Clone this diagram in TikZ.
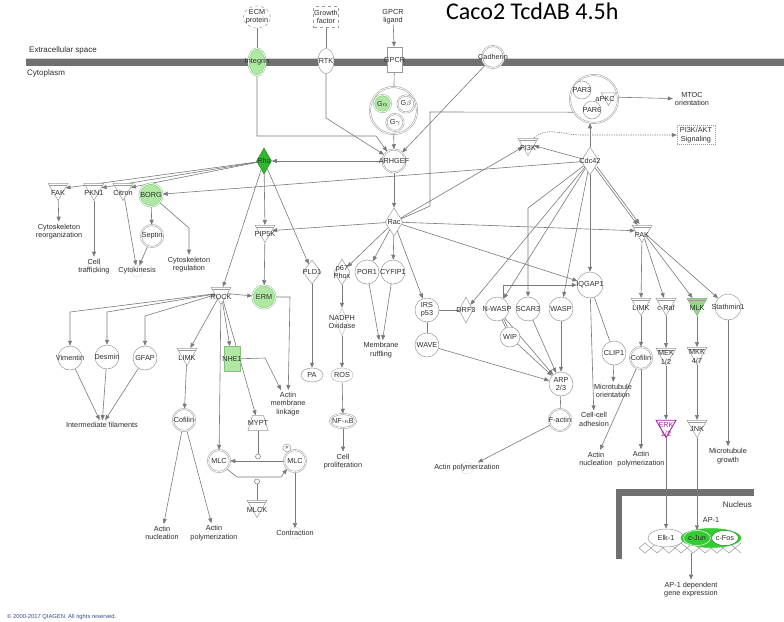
\documentclass[tikz,border=0pt]{standalone}
\usepackage{fontspec}
\setmainfont{Liberation Sans}
\newfontfamily\titlefont{Carlito}
\usetikzlibrary{shapes.geometric,arrows.meta,calc}

\definecolor{edge}{HTML}{7A7A7A}
\definecolor{rim}{HTML}{9A9A9A}
\definecolor{lgreen}{HTML}{AEE8A3}
\definecolor{ringgreen}{HTML}{7CC47A}
\definecolor{dgreen}{HTML}{2DB82D}
\definecolor{vgreen}{HTML}{33CC33}
\definecolor{mlkgreen}{HTML}{8EDC84}
\definecolor{erkpurple}{HTML}{A020A0}
\definecolor{membrane}{HTML}{707070}
\definecolor{txt}{HTML}{2E2E2E}
\definecolor{copyblue}{HTML}{3A4A8C}

\pgfdeclarelayer{bg}
\pgfdeclarelayer{edges}
\pgfsetlayers{bg,edges,main}

\tikzset{
  lbl/.style={font=\fontsize{7.3}{8.4}\selectfont, text=txt, align=center, inner sep=0pt},
  cmp/.style={font=\fontsize{8}{9}\selectfont, text=txt, inner sep=0pt},
  base/.style={draw=rim, fill=white, line width=0.5pt, inner sep=0pt},
  circ/.style={base, circle, minimum size=24pt},
  dcirc/.style={base, circle, minimum size=23pt, double=white, double distance=0.8pt},
  kinase/.style={base, regular polygon, regular polygon sides=3, shape border rotate=180, minimum size=23pt},
  enzyme/.style={base, diamond, minimum width=18pt, minimum height=28pt},
  receptor/.style={base, ellipse, minimum width=16pt, minimum height=25pt},
  oval/.style={base, ellipse, minimum width=22pt, minimum height=14pt},
  link/.style={draw=edge, line width=0.6pt},
  act/.style={link, -{Triangle[length=5pt,width=4pt]}},
  procmark/.style={draw=gray!45, dash pattern=on 1pt off 0.8pt, line width=0.4pt, circle, minimum size=12pt, inner sep=0pt},
  fnlbl/.style={lbl, inner sep=2pt},
  catdot/.style={circle, draw=edge, fill=white, line width=0.5pt, minimum size=5pt, inner sep=0pt},
}

% molecule: shape node plus its label
\newcommand\gene[4]{\node[#1] (#2) at (#3) {};\node[lbl] (#2-t) at (#2.center) {#4};}
% kinase triangle with its inner top rule, label set a little below the centre
\newcommand\kin[4]{\node[kinase,#1] (#2) at (#3) {};
  \draw[rim, line width=0.4pt] ($(#2.corner 2)!0.13!(#2.corner 1)$) -- ($(#2.corner 3)!0.13!(#2.corner 1)$);
  \node[lbl,yshift=-3.5pt] (#2-t) at (#2.center) {#4};}
% cellular function: small gear mark behind its text
\newcommand\fn[3]{\node[procmark] (#1-m) at (#2) {};\node[fnlbl] (#1) at (#2) {#3};}

\begin{document}
\begin{tikzpicture}[x=1pt,y=-1pt]
\useasboundingbox (0,0) rectangle (784,621);

% ---------------- compartments ----------------
\begin{pgfonlayer}{bg}
\fill[white] (0,0) rectangle (784,621);
\fill[membrane] (26,58.5) rectangle (784,65.5);
\draw[gray!35, line width=0.6pt] (26,58) -- (784,58);
\fill[membrane] (616,489) rectangle (754,496);
\fill[membrane] (616,489) rectangle (622,559);
% DNA strands
\draw[rim, line width=0.5pt] plot[domain=639:741, samples=18] (\x,{548+5*sin((\x-639)*15)});
\draw[rim, line width=0.5pt] plot[domain=639:741, samples=18] (\x,{548-5*sin((\x-639)*15)});
\end{pgfonlayer}

\node[cmp, anchor=west] (extra) at (29,50) {Extracellular space};
\node[cmp, anchor=west] (cyto) at (27,73) {Cytoplasm};
\node[cmp, anchor=east] (nucl) at (752,505) {Nucleus};

\node[anchor=base west, inner sep=0pt, font=\titlefont\fontsize{24}{24}\selectfont] (title) at (446,19) {Caco2 TcdAB 4.5h};
\node[anchor=west, inner sep=0pt, font=\fontsize{5.8}{6}\selectfont, text=copyblue] (copy) at (7,617) {\textcopyright\ 2000-2017 QIAGEN. All rights reserved.};

% ---------------- ligands and membrane ----------------
\gene{base, ellipse, dashed, minimum width=27pt, minimum height=22pt}{ecm}{257,17}{ECM\\protein}
\gene{base, rectangle, dashed, minimum width=25pt, minimum height=21pt}{gf}{326,17}{Growth\\factor}
\node[lbl] (gl) at (393,17) {GPCR\\ligand};

\gene{receptor, fill=lgreen, draw=ringgreen, double=white, double distance=0.8pt, minimum width=17pt, minimum height=27pt}{integrin}{257,62}{Integrin}
\gene{receptor}{rtk}{326,61}{RTK}
\gene{base, rectangle, minimum width=15pt, minimum height=25pt}{gpcr}{394.5,59.5}{GPCR}
\gene{dcirc, minimum size=22pt}{cadherin}{493,57}{Cadherin}

% G protein complex
\node[dcirc, minimum size=47pt] (gq) at (393.5,110.5) {};
\gene{circ, minimum size=17pt, fill=lgreen, draw=ringgreen, double=white, double distance=0.8pt}{ga}{382.5,103.5}{G$\alpha$}
\gene{circ, minimum size=17pt, double=white, double distance=0.8pt}{gb}{406,104}{G$\beta$}
\gene{circ, minimum size=17pt, double=white, double distance=0.8pt}{gg}{395,122.5}{G$\gamma$}

\gene{dcirc}{arhgef}{394,161}{ARHGEF}
\gene{enzyme, fill=dgreen, draw=dgreen!80!black, minimum width=15pt, minimum height=26pt}{rho}{264,161}{Rho}
\gene{enzyme}{rac}{394,222}{Rac}
\gene{enzyme}{cdc42}{590,161}{Cdc42}

\kin{}{pi3k}{528,144}{PI3K}
\gene{base, rectangle, dash pattern=on 1pt off 1pt, minimum width=38pt, minimum height=19pt}{pi3kakt}{696,135}{PI3K/AKT\\Signaling}

% PAR complex
\node[dcirc, minimum size=48pt] (par) at (594,99) {};
\gene{circ, minimum size=18pt}{par3}{582,90}{PAR3}
\gene{circ, minimum size=18pt}{par6}{592,110}{PAR6}
\node[kinase, minimum size=17pt] (apkc) at (608.5,97) {};
\node[lbl] (apkc-t) at (605,99) {aPKC};
\fn{mtoc}{692,99}{MTOC\\orientation}

% ---------------- Rho branch ----------------
\kin{}{fak}{58,189}{FAK}
\kin{}{pkn1}{94,189}{PKN1}
\kin{}{citron}{123,189}{Citron}
\gene{dcirc, fill=lgreen, draw=ringgreen}{borg}{151,195}{BORG}
\gene{dcirc, minimum size=22pt}{septin}{152,236}{Septin}

\fn{reorg}{59,231.5}{Cytoskeleton\\reorganization}
\fn{traf}{94,266.5}{Cell\\trafficking}
\fn{cytok}{137,271}{Cytokinesis}
\fn{cytreg}{189,264.5}{Cytoskeleton\\regulation}

\kin{}{rock}{221,293}{ROCK}
\kin{}{pip5k}{265,231}{PIP5K}
\gene{dcirc, fill=lgreen, draw=ringgreen}{erm}{264,297}{ERM}
\gene{enzyme, minimum width=18pt, minimum height=24pt}{pld1}{312,272}{PLD1}
\gene{enzyme, minimum width=16pt, minimum height=26pt}{p67}{342,272}{p67\\Phox}
\gene{circ}{por1}{367,272}{POR1}
\gene{circ}{cyfip1}{393,272}{CYFIP1}
\fn{ruff}{381,350}{Membrane\\ruffling}

\gene{oval}{pa}{312,375}{PA}
\gene{enzyme, draw=rim!60, minimum width=12pt, minimum height=28pt}{nadph}{342,322}{NADPH\\Oxidase}
\gene{oval, draw=rim!70}{ros}{342,375}{ROS}
\gene{oval, minimum width=26pt, double=white, double distance=0.8pt}{nfkb}{343,421}{NF-$\kappa$B}
\fn{prolif}{343,461.5}{Cell\\proliferation}

\gene{circ}{vim}{70,358}{Vimentin}
\gene{circ}{des}{107,357}{Desmin}
\gene{circ}{gfap}{145,358}{GFAP}
\fn{interm}{102,425}{Intermediate filaments}
\kin{}{limkA}{187,354}{LIMK}
\gene{dcirc, minimum size=22pt}{cofA}{184,420}{Cofilin}
\fn{actnucA}{162,533}{Actin\\nucleation}
\fn{actpolA}{214,533}{Actin\\polymerization}

\gene{base, rectangle, fill=lgreen, draw=lgreen!80!black, minimum width=16pt, minimum height=25pt}{nhe1}{232,359}{NHE1}
\fn{linkage}{288,404}{Actin\\membrane\\linkage}
\gene{base, trapezium, inner sep=2pt, trapezium stretches=true, trapezium left angle=68, trapezium right angle=68, minimum width=20pt, minimum height=15pt}{mypt}{258,423}{MYPT}
\gene{dcirc, minimum size=22pt}{mlcA}{219,461}{MLC}
\gene{dcirc, minimum size=22pt}{mlcB}{295,461}{MLC}
\node[circle, draw=rim, fill=white, line width=0.5pt, minimum size=8pt, inner sep=0pt, font=\fontsize{4.5}{5}\selectfont, text=txt] (mlcp) at (287,448) {P};
\kin{}{mlck}{257,506}{MLCK}
\node[catdot] (myptdot) at (258,456.5) {};
\node[catdot] (mlckdot) at (257,481.5) {};
\fn{contract}{295,533}{Contraction}

% ---------------- Rac / Cdc42 effectors ----------------
\gene{circ}{irs}{427,310}{IRS\\p53}
\gene{circ}{wave}{427,345}{WAVE}
\gene{enzyme, minimum width=14pt, minimum height=26pt}{drf3}{466,310}{DRF3}
\gene{circ}{nwasp}{497,309}{N-WASP}
\gene{circ}{scar3}{528,309}{SCAR3}
\gene{circ}{wasp}{561,309}{WASP}
\gene{circ, minimum size=20pt}{wip}{510,337}{WIP}
\gene{circ}{arp}{561,384}{ARP\\2/3}
\gene{dcirc, minimum size=22pt}{factin}{560,420}{F-actin}
\fn{actpolB}{467,468}{Actin polymerization}

\gene{circ, minimum size=26pt}{iqgap}{590,285}{IQGAP1}
\gene{circ}{clip1}{614,353}{CLIP1}
\fn{mtorient}{613,391}{Microtubule\\orientation}
\fn{adhes}{594,419.5}{Cell-cell\\adhesion}

\kin{}{pak}{642,231}{PAK}
\kin{}{limkB}{641,304}{LIMK}
\gene{dcirc, minimum size=22pt}{cofB}{641,358}{Cofilin}
\fn{actnucC}{596,459}{Actin\\nucleation}
\fn{actpolC}{641,459}{Actin\\polymerization}
\kin{}{craf}{666,304}{c-Raf}
\kin{}{mek}{666,354}{MEK\\1/2}
\node[kinase, draw=erkpurple, line width=0.9pt] (erk) at (666,426) {};
\node[lbl, text=erkpurple, yshift=-3.5pt] (erk-t) at (erk.center) {ERK\\1/2};
\kin{fill=mlkgreen, draw=mlkgreen!80!black}{mlk}{697,304}{MLK}
\kin{}{mkk}{697,353}{MKK\\4/7}
\kin{}{jnk}{697,426}{JNK}
\gene{circ, minimum size=26pt}{stath}{728,307}{Stathmin1}
\fn{mtgrowth}{728,456}{Microtubule\\growth}

% ---------------- nucleus ----------------
\gene{oval, minimum width=36pt, minimum height=18pt}{elk1}{666,538}{Elk-1}
\node[base, ellipse, fill=vgreen, draw=vgreen, minimum width=60pt, minimum height=19pt] (ap1) at (711,538) {};
\node[lbl] (ap1-t) at (711,520) {AP-1};
\gene{base, ellipse, fill=vgreen, draw=white, minimum width=27pt, minimum height=15pt}{cjun}{697,538}{c-Jun}
\gene{base, ellipse, fill=white, draw=vgreen!70!black, minimum width=27pt, minimum height=15pt}{cfos}{725,538}{c-Fos}
\coordinate (dnab) at (691,553);
\fn{geneexp}{691,589.5}{AP-1 dependent\\gene expression}

% ---------------- connectors ----------------
\begin{pgfonlayer}{edges}
\draw[link] (ecm) -- (integrin);
\draw[link] (gf) -- (rtk);
\draw[act] (gl) -- (gpcr);
\draw[link] (gpcr) -- (gq);
\draw[act] (gq) -- (arhgef);
\draw[act] (integrin) -- (257,136) -- (376,136) -- (arhgef);
\draw[act] (rtk) -- (326,118) -- (arhgef);
\draw[act] (cadherin) -- (arhgef);
\draw[act] (arhgef) -- (rho);
\draw[act] (arhgef) -- (rac);

\draw[act] (rho) -- (fak);
\draw[act] (rho) -- (pkn1);
\draw[act] (rho) -- (citron);
\draw[act] (rho) -- (rock);
\draw[act] (rho) -- (pip5k);
\draw[act] (rho) -- (pld1);
\draw[act] (cdc42) -- (borg);

\draw[act] (rac) -- (pip5k);
\draw[act] (rac) -- (p67);
\draw[act] (rac) -- (por1);
\draw[act] (rac) -- (cyfip1);
\draw[act] (rac) -- (irs);
\draw[act] (rac) -- (pi3k);
\draw[act] (rac) -- (iqgap);
\draw[act] (rac) -- (pak);
\draw[link] (rac) -- (430,206) -- (430,112) -- (par.213);

\draw[act] (cdc42) -- (pi3k);
\draw[act] (cdc42) -- (cdc42 |- par.south);
\draw[act] (cdc42) -- (drf3);
\draw[act] (cdc42) -- (nwasp);
\draw[act] (cdc42) -- (528,208) -- (scar3);
\draw[act] (cdc42) -- (wasp);
\draw[act] (cdc42) -- (iqgap);
\draw[act] (cdc42) -- (pak);
\draw[act, transform canvas={xshift=2pt, yshift=1pt}] (cdc42) -- (pak);
\draw[act, dash pattern=on 1.2pt off 1.2pt] (pi3k.north east) .. controls (546,126) and (562,135) .. (582,135) -- (pi3kakt);
\draw[act] (apkc) -- (mtoc);

\draw[act] (fak) -- (reorg);
\draw[act] (pkn1) -- (traf);
\draw[act] (citron) -- (cytok);
\draw[act] (borg) -- (septin);
\draw[act] (septin) -- (cytok);
\draw[act] (borg) -- (189,228) -- (cytreg);

\draw[act] (rock) -- (70,312) -- (vim);
\draw[act] (rock) -- (107,312) -- (des);
\draw[act] (rock) -- (145,316) -- (gfap);
\draw[act] (rock) -- (limkA);
\draw[act] (rock) -- (erm);
\draw[act] (rock) -- (nhe1);
\draw[act] (rock) -- (mypt);
\draw[act] (rock) -- (mlcA);
\draw[act] (vim) -- (interm);
\draw[act] (des) -- (interm);
\draw[act] (gfap) -- (interm);
\draw[act] (limkA) -- (cofA);
\draw[act] (cofA) -- (actnucA);
\draw[act] (cofA) -- (actpolA);
\draw[act] (pip5k) -- (erm);
\draw[act] (erm) -- (290,297) -- (linkage);
\draw[act] (nhe1) -- (265,358) -- (linkage);

\draw[act] (mlcB) -- (mlcA);
\draw[link] (mypt) -- (myptdot);
\draw[act] (mlcA.south east) -- (237,477) -- (281,477) -- (mlcB.south west);
\draw[link] (mlck) -- (mlckdot);
\draw[act] (mlcB) -- (contract);

\draw[act] (pld1) -- (pa);
\draw[act] (p67) -- (nadph);
\draw[act] (nadph) -- (ros);
\draw[act] (ros) -- (nfkb);
\draw[act] (nfkb) -- (prolif);
\draw[act] (por1) -- (ruff);
\draw[act] (cyfip1) -- (ruff);

\draw[link] (irs) -- (drf3);
\draw[link] (irs) -- (wave);
\draw[act] (wave) -- (arp);
\draw[act] (nwasp) -- (arp);
\draw[act] (wip) -- (arp);
\draw[act] (scar3) -- (arp);
\draw[act] (wasp) -- (arp);
\draw[link] (nwasp) -- (wip);
\draw[link, transform canvas={xshift=1.6pt, yshift=1pt}] (nwasp) -- (wip);
\draw[link] (arp) -- (factin);
\draw[act] (factin) -- (actpolB);
\draw[act] (nwasp.60) |- (iqgap);
\draw[act] (iqgap) -- (adhes);
\draw[link] (iqgap) -- (clip1);
\draw[act] (clip1) -- (mtorient);

\draw[act] (pak) -- (limkB);
\draw[act] (pak) -- (craf);
\draw[act] (pak) -- (mlk);
\draw[act] (pak) -- (stath);
\draw[act] (limkB) -- (cofB);
\draw[act] (cofB) -- (actnucC);
\draw[act] (cofB) -- (actpolC);
\draw[act] (craf) -- (mek);
\draw[act] (mek) -- (erk);
\draw[act] (erk) -- (elk1);
\draw[act] (mlk) -- (mkk);
\draw[act] (mkk) -- (jnk);
\draw[act] (jnk) -- (cjun);
\draw[act] (stath) -- (mtgrowth);
\draw[act] (dnab) -- (geneexp);
\end{pgfonlayer}
\end{tikzpicture}
\end{document}
